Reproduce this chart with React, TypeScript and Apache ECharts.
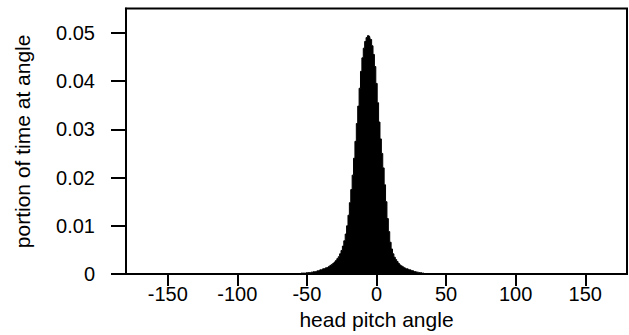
import React, { useEffect, useRef } from "react";
import * as echarts from "echarts";

const angles: number[] = [
  -61, -60, -59, -58, -57, -56, -55, -54, -53, -52, -51, -50, -49, -48, -47, -46, -45, -44, -43, -42, -41,
  -40, -39, -38, -37, -36, -35, -34, -33, -32, -31, -30, -29, -28, -27, -26, -25, -24, -23, -22, -21,
  -20, -19, -18, -17, -16, -15, -14, -13, -12, -11, -10, -9, -8, -7, -6, -5, -4, -3, -2, -1,
  0, 1, 2, 3, 4, 5, 6, 7, 8, 9, 10, 11, 12, 13, 14, 15, 16, 17, 18, 19, 20,
  21, 22, 23, 24, 25, 26, 27, 28, 29, 30, 31, 32, 33, 34, 35, 36,
];

const portions: number[] = [
  0, 0.0001, 0.0001, 0.0001, 0.0001, 0.0001, 0.0001, 0.0002, 0.0002, 0.0002, 0.0002, 0.0003, 0.0003, 0.0003, 0.0004, 0.0004, 0.0005, 0.0005, 0.0006, 0.0007, 0.0008,
  0.0009, 0.001, 0.0011, 0.0012, 0.0013, 0.0014, 0.0016, 0.0018, 0.002, 0.0022, 0.0025, 0.0028, 0.0032, 0.0036, 0.0042, 0.0049, 0.0058, 0.0069, 0.0083, 0.01,
  0.0122, 0.0148, 0.0175, 0.0205, 0.024, 0.0275, 0.0312, 0.0348, 0.0385, 0.042, 0.0448, 0.0468, 0.0482, 0.049, 0.0494, 0.0493, 0.0486, 0.0473, 0.0455, 0.043,
  0.0395, 0.0355, 0.0315, 0.028, 0.025, 0.022, 0.0185, 0.015, 0.0115, 0.0088, 0.0066, 0.0052, 0.0042, 0.0035, 0.003, 0.0026, 0.0022, 0.0019, 0.0017, 0.0015, 0.0013,
  0.0012, 0.0011, 0.001, 0.0009, 0.0008, 0.0007, 0.0006, 0.0005, 0.0004, 0.0004, 0.0003, 0.0003, 0.0002, 0.0002, 0.0001, 0,
];

const xTicks: number[] = [-150, -100, -50, 0, 50, 100, 150];
const yTicks: number[] = [0, 0.01, 0.02, 0.03, 0.04, 0.05];

const FONT = "'Liberation Sans', Arial, sans-serif";

export default function App() {
  const ref = useRef<HTMLDivElement>(null);
  useEffect(() => {
    if (!ref.current) return;
    const chart = echarts.init(ref.current, null, { renderer: "svg" });
    chart.setOption({
      animation: false,
      backgroundColor: "#fff",
      grid: {
        left: 126,
        right: 2,
        top: 8.6,
        bottom: 55,
        show: true,
        borderColor: "#000",
        borderWidth: 2,
        backgroundColor: "transparent",
      },
      xAxis: {
        type: "value",
        min: -180,
        max: 180,
        name: "head pitch angle",
        nameLocation: "middle",
        nameGap: 32,
        nameTextStyle: { color: "#000", fontSize: 21, fontFamily: FONT },
        axisLine: { show: true, onZero: false, lineStyle: { color: "#000", width: 2 } },
        axisTick: {
          show: true,
          inside: false,
          length: 12,
          customValues: xTicks,
          lineStyle: { color: "#000", width: 2 },
        },
        axisLabel: {
          customValues: xTicks,
          margin: 10,
          color: "#000",
          fontSize: 20,
          fontFamily: FONT,
        },
        splitLine: { show: false },
      },
      yAxis: {
        type: "value",
        min: 0,
        max: 0.055,
        name: "portion of time at angle",
        nameLocation: "middle",
        nameGap: 93.5,
        nameTextStyle: { color: "#000", fontSize: 21, fontFamily: FONT },
        axisLine: { show: true, onZero: false, lineStyle: { color: "#000", width: 2 } },
        axisTick: {
          show: true,
          inside: false,
          length: 15,
          customValues: yTicks,
          lineStyle: { color: "#000", width: 2 },
        },
        axisLabel: {
          customValues: yTicks,
          margin: 31,
          color: "#000",
          fontSize: 20,
          fontFamily: FONT,
          formatter: (v: number) => (v === 0 ? "0" : v.toFixed(2)),
        },
        splitLine: { show: false },
      },
      series: [
        {
          type: "line",
          step: "middle",
          symbol: "none",
          data: angles.map((a, i) => [a, portions[i]]),
          lineStyle: { color: "#000", width: 1 },
          areaStyle: { color: "#000", opacity: 1 },
        },
      ],
    });
    return () => chart.dispose();
  }, []);
  return <div ref={ref} style={{ width: 629, height: 335, position: "absolute", left: 0, top: 0 }} />;
}
